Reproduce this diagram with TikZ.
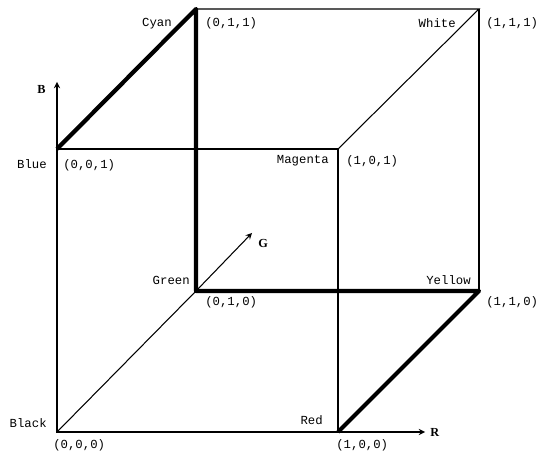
\documentclass[tikz,border=0pt]{standalone}
\usepackage{fontspec}
\setmainfont{Liberation Serif}
\setmonofont{Liberation Mono}
\begin{document}
\begin{tikzpicture}[>=stealth]
      \tikzset{edge/.style={draw, line width=0.6pt},
        path/.style={draw, line width=2.4pt, line join=round},
        lbl/.style={font=\ttfamily\fontsize{7}{8}\selectfont, inner sep=0pt},
        axlbl/.style={font=\bfseries\fontsize{7}{8}\selectfont, inner sep=0pt}}
      \useasboundingbox (-1.14,-0.46) rectangle (9.58,8.64);
      % cube corners
      \coordinate (k) at (0,0);
      \coordinate (r) at (5.62,0);
      \coordinate (b) at (0,5.66);
      \coordinate (m) at (5.62,5.66);
      \coordinate (g) at (2.78,2.82);
      \coordinate (y) at (8.44,2.82);
      \coordinate (c) at (2.78,8.46);
      \coordinate (w) at (8.44,8.46);
      \coordinate (btip) at (0,7.0);
      \coordinate (rtip) at (7.36,0);
      \coordinate (gtip) at (3.9,3.98);
      \draw[edge] (k) -- (r) -- (m) -- (b) -- cycle;
      \draw[edge] (k) -- (g);
      \draw[edge] (m) -- (w) -- (c);
      \draw[edge] (w) -- (y);
      \draw[edge, ->] (b) -- (btip);
      \draw[edge, ->] (r) -- (rtip);
      \draw[edge, ->] (g) -- (gtip);
      \draw[path] (b) -- (c) -- (g) -- (y) -- (r);
      \node[lbl, anchor=east, xshift=-0.48cm, yshift=-0.30cm] (cyan) at (c) {Cyan};
      \node[lbl, anchor=west, xshift=0.18cm, yshift=-0.28cm] (c011) at (c) {(0,1,1)};
      \node[lbl, anchor=east, xshift=-0.46cm, yshift=-0.28cm] (white) at (w) {White};
      \node[lbl, anchor=west, xshift=0.14cm, yshift=-0.28cm] (c111) at (w) {(1,1,1)};
      \node[lbl, anchor=east, xshift=-0.20cm, yshift=-0.30cm] (blue) at (b) {Blue};
      \node[lbl, anchor=west, xshift=0.12cm, yshift=-0.32cm] (c001) at (b) {(0,0,1)};
      \node[lbl, anchor=east, xshift=-0.18cm, yshift=-0.24cm] (magenta) at (m) {Magenta};
      \node[lbl, anchor=west, xshift=0.16cm, yshift=-0.24cm] (c101) at (m) {(1,0,1)};
      \node[lbl, anchor=east, xshift=-0.12cm, yshift=0.22cm] (green) at (g) {Green};
      \node[lbl, anchor=west, xshift=0.18cm, yshift=-0.22cm] (c010) at (g) {(0,1,0)};
      \node[lbl, anchor=east, xshift=-0.16cm, yshift=0.22cm] (yellow) at (y) {Yellow};
      \node[lbl, anchor=west, xshift=0.14cm, yshift=-0.22cm] (c110) at (y) {(1,1,0)};
      \node[lbl, anchor=east, xshift=-0.20cm, yshift=0.18cm] (black) at (k) {Black};
      \node[lbl, anchor=west, xshift=-0.08cm, yshift=-0.26cm] (c000) at (k) {(0,0,0)};
      \node[lbl, anchor=east, xshift=-0.30cm, yshift=0.24cm] (red) at (r) {Red};
      \node[lbl, anchor=west, xshift=-0.04cm, yshift=-0.26cm] (c100) at (r) {(1,0,0)};
      \node[axlbl, anchor=east, xshift=-0.22cm, yshift=-0.14cm] (blab) at (btip) {B};
      \node[axlbl, anchor=west, xshift=0.12cm, yshift=-0.20cm] (glab) at (gtip) {G};
      \node[axlbl, anchor=west, xshift=0.10cm] (rlab) at (rtip) {R};
    \end{tikzpicture}
\end{document}
